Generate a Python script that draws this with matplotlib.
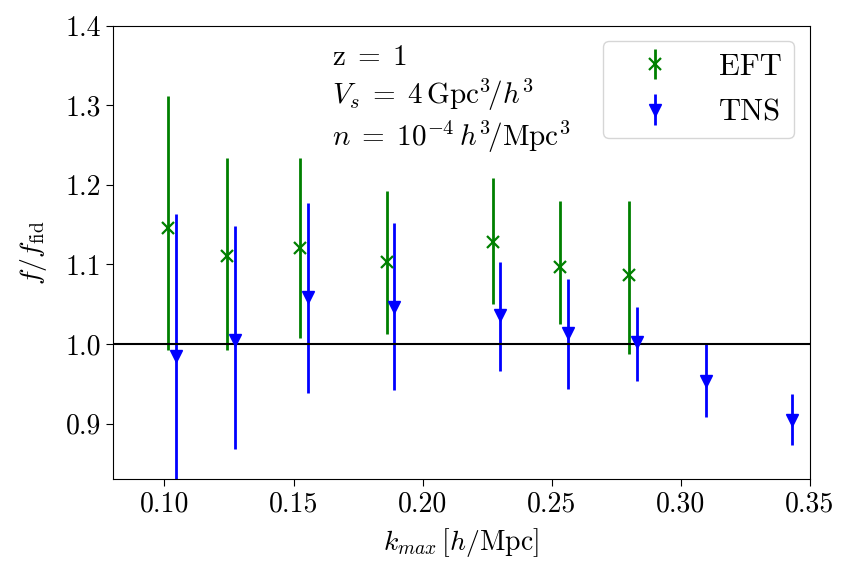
import numpy as np
import matplotlib
matplotlib.use("Agg")
import matplotlib.pyplot as plt

plt.rcParams['font.family'] = 'serif'
plt.rcParams['font.serif'] = ['cmr10']
plt.rcParams['mathtext.fontset'] = 'cm'
plt.rcParams['axes.formatter.use_mathtext'] = True

# EFT (groen) - k_max, beste verdi og grensene til feilstolpen
k_eft = [0.1014, 0.1242, 0.1524, 0.1862, 0.2273, 0.2531, 0.2800]
f_eft = [1.146, 1.110, 1.120, 1.103, 1.128, 1.097, 1.087]
eft_hi = [1.312, 1.234, 1.234, 1.192, 1.208, 1.179, 1.179]
eft_lo = [0.992, 0.993, 1.007, 1.013, 1.050, 1.025, 0.988]

# TNS (blaa)
k_tns = [0.1045, 0.1273, 0.1555, 0.1891, 0.2301, 0.2562, 0.2829, 0.3097, 0.3431]
f_tns = [0.985, 1.005, 1.059, 1.047, 1.037, 1.014, 1.003, 0.954, 0.905]
tns_hi = [1.163, 1.148, 1.177, 1.152, 1.103, 1.082, 1.046, 1.000, 0.937]
tns_lo = [0.80, 0.868, 0.939, 0.942, 0.966, 0.943, 0.954, 0.908, 0.873]

x_ticks = [0.10, 0.15, 0.20, 0.25, 0.30, 0.35]
y_ticks = [0.9, 1.0, 1.1, 1.2, 1.3, 1.4]

f_eft = np.array(f_eft)
f_tns = np.array(f_tns)
err_eft = [f_eft - np.array(eft_lo), np.array(eft_hi) - f_eft]
err_tns = [f_tns - np.array(tns_lo), np.array(tns_hi) - f_tns]

fig = plt.figure(figsize=(8.55, 5.81), dpi=100)
ax = fig.add_axes([0.132, 0.175, 0.815, 0.781])

ax.errorbar(k_eft, f_eft, yerr=err_eft, fmt='x', color='green', ms=9, mew=1.6,
            elinewidth=2, capsize=0, label='EFT')
ax.errorbar(k_tns, f_tns, yerr=err_tns, fmt='v', color='blue', ms=9,
            elinewidth=2, capsize=0, label='TNS')
ax.axhline(1.0, color='black', lw=1.5)

ax.set_xlim(0.08, 0.35)
ax.set_ylim(0.83, 1.4)
ax.set_xticks(x_ticks)
ax.set_yticks(y_ticks)
ax.set_xticklabels([f"{v:.2f}" for v in x_ticks])
ax.set_yticklabels([f"{v:.1f}" for v in y_ticks])
ax.tick_params(labelsize=20, length=5)

ax.set_xlabel(r'$k_{max}\,[h/{\rm Mpc}]$', fontsize=20, labelpad=6)
ax.set_ylabel(r'$f/f_{\rm fid}$', fontsize=20, labelpad=12)

ax.text(0.314, 0.957,
        r'$\mathrm{z}\;=\;1$' + '\n' +
        r'$V_s\;=\;4\,{\rm Gpc}^3\!/h^3$' + '\n' +
        r'$n\;=\;10^{-4}\,h^3\!/{\rm Mpc}^3$',
        transform=ax.transAxes, fontsize=21, va='top', ha='left')

ax.legend(loc='upper right', fontsize=22, handlelength=2.6, handletextpad=0.8,
          labelspacing=0.6)

fig.savefig('out.png', dpi=100)
